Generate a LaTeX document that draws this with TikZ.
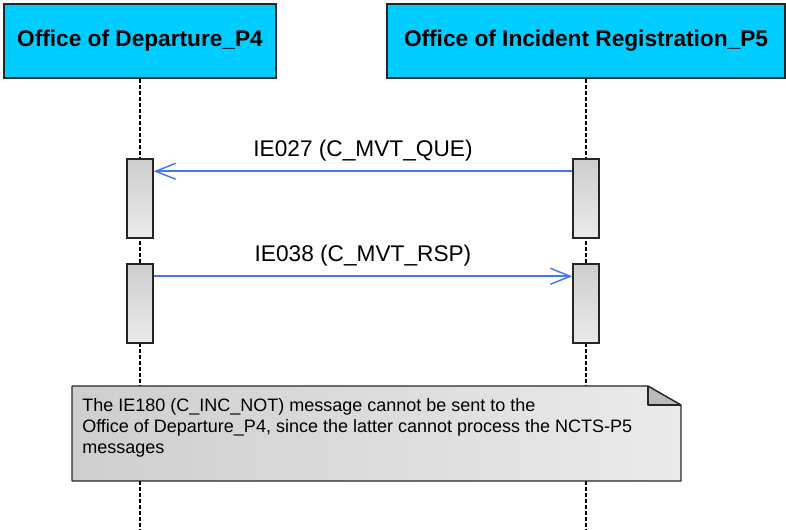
\documentclass[tikz,border=0pt]{standalone}
\usepackage{fontspec}
\setmainfont{Liberation Sans}
\usetikzlibrary{calc, positioning}
\usetikzlibrary{arrows.meta}

\definecolor{hdrcyan}{RGB}{0,204,255}
\definecolor{msgblue}{RGB}{66,118,255}
\definecolor{actTop}{RGB}{206,206,206}
\definecolor{actBot}{RGB}{234,234,234}
\definecolor{noteLeft}{RGB}{206,206,206}
\definecolor{noteRight}{RGB}{234,234,234}
\definecolor{foldGray}{RGB}{186,186,186}

\begin{document}
\begin{tikzpicture}[x=0.75pt, y=-0.75pt,
  hdr/.style={draw=black!85, line width=1.1pt, fill=hdrcyan, inner sep=0pt,
    font=\bfseries\fontsize{17}{20}\selectfont},
  act/.style={draw=black!85, line width=1.1pt, top color=actTop, bottom color=actBot,
    minimum width=26*0.75pt, minimum height=79*0.75pt, inner sep=0pt},
  life/.style={line width=0.85pt, dash pattern=on 3pt off 1.5pt},
  msg/.style={draw=msgblue, line width=1.3pt,
    -{Straight Barb[length=15pt, width=12pt, line width=1.1pt]}},
  lbl/.style={anchor=base, inner sep=0pt, font=\fontsize{17}{20}\selectfont}]
\def\noteL{72}
\def\noteR{681}
\def\noteT{386}
\def\noteB{481}
\def\foldw{33}
\def\foldh{19}
\def\msgdrop{13}

\useasboundingbox (0,0) rectangle (786,529);

\coordinate (bot) at (0,529);

% participants
\node[hdr, minimum width=272*0.75pt, minimum height=74*0.75pt] (dep) at (140,41) {Office of Departure\_P4};
\node[hdr, minimum width=398*0.75pt, minimum height=74*0.75pt] (inc) at (586,41) {Office of Incident Registration\_P5};

\draw[life] (dep.south) -- (dep.south |- bot);
\draw[life] (inc.south) -- (inc.south |- bot);

% activations
\node[act] (actL1) at (140,198.5) {};
\node[act] (actR1) at (586,198.5) {};
\node[act] (actL2) at (140,303.5) {};
\node[act] (actR2) at (586,303.5) {};

% messages
\draw[msg] ($(actR1.north west)+(0,\msgdrop)$) -- ($(actL1.north east)+(0,\msgdrop)$);
\node[lbl] (lblQ) at (363,156) {IE027 (C\_MVT\_QUE)};
\draw[msg] ($(actL2.north east)+(0,\msgdrop)$) -- ($(actR2.north west)+(0,\msgdrop)$);
\node[lbl] (lblR) at (363,261) {IE038 (C\_MVT\_RSP)};

% note
\coordinate (NTL) at (\noteL,\noteT);
\coordinate (NBL) at (\noteL,\noteB);
\coordinate (NBR) at (\noteR,\noteB);
\coordinate (NF1) at ($(\noteR,\noteT)+(-\foldw,0)$);
\coordinate (NF2) at ($(\noteR,\noteT)+(0,\foldh)$);
\coordinate (NF3) at ($(NF1)+(0,\foldh)$);

\shade[left color=noteLeft, right color=noteRight] (NTL) -- (NF1) -- (NF2) -- (NBR) -- (NBL) -- cycle;
\fill[foldGray] (NF1) -- (NF3) -- (NF2) -- cycle;
\draw[line width=1.1pt, black!85, line join=round] (NTL) -- (NF1) -- (NF2) -- (NBR) -- (NBL) -- cycle;
\draw[line width=1.1pt, black!85, line join=round] (NF1) -- (NF3) -- (NF2);

\node[anchor=north west, inner sep=0pt, align=left, font=\fontsize{13.5}{15.75}\selectfont]
  (noteText) at (82,398) {The IE180 (C\_INC\_NOT) message cannot be sent to the\\
  Office of Departure\_P4, since the latter cannot process the NCTS-P5\\
  messages};
\end{tikzpicture}
\end{document}
